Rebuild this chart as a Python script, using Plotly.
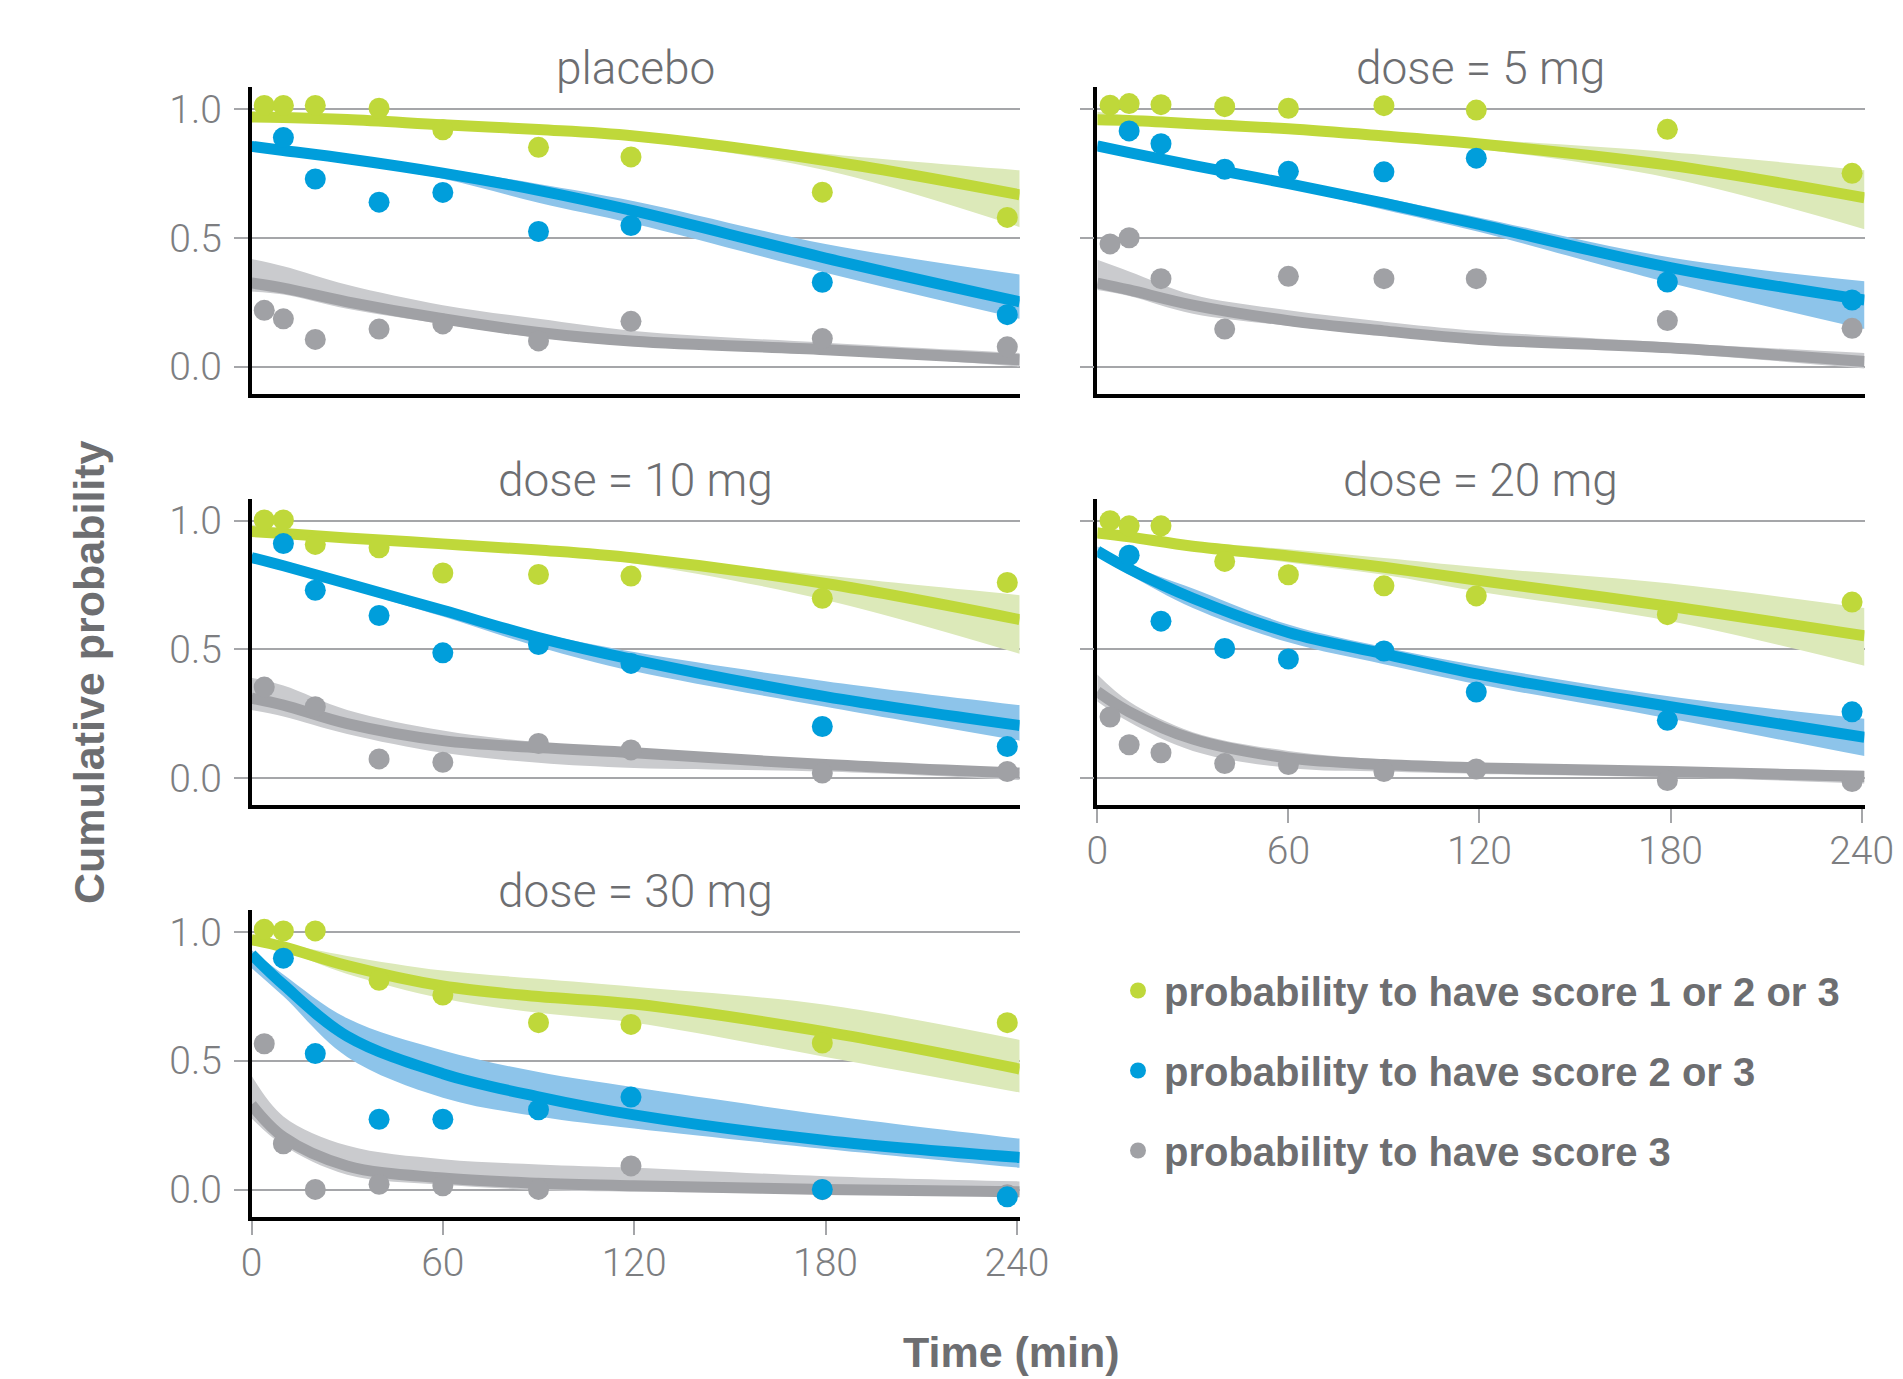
import plotly.graph_objects as go

# ---------------- data ----------------
PANELS = ["placebo", "dose = 5 mg", "dose = 10 mg", "dose = 20 mg", "dose = 30 mg"]
OBS_TIME = [4, 10, 20, 40, 60, 90, 119, 179, 237]          # observation times (min)
FIT_TIME = [0, 10, 30, 60, 90, 120, 180, 240.9]           # times where fitted curves were read
X_TICKS = [0, 60, 120, 180, 240]
Y_TICKS = [0.0, 0.5, 1.0]
Y_TICK_TEXT = ["0.0", "0.5", "1.0"]

SERIES_NAMES = [
    "probability to have score 1 or 2 or 3",
    "probability to have score 2 or 3",
    "probability to have score 3",
]

# observed proportions (None = point hidden / absent)
OBS_123 = {
    "placebo":      [1.015, 1.015, 1.015, 1.004, 0.92, 0.852, 0.815, 0.678, 0.58],
    "dose = 5 mg":  [1.016, 1.022, 1.018, 1.01, 1.004, 1.014, 0.997, 0.922, 0.751],
    "dose = 10 mg": [1.003, 1.003, 0.908, 0.895, 0.797, 0.791, 0.785, 0.699, 0.76],
    "dose = 20 mg": [1.0, 0.98, 0.98, 0.842, 0.79, 0.747, 0.708, 0.635, 0.684],
    "dose = 30 mg": [1.01, 1.004, 1.004, 0.812, 0.755, 0.648, 0.641, 0.569, 0.648],
}
OBS_23 = {
    "placebo":      [None, 0.89, 0.729, 0.639, 0.677, 0.525, 0.548, 0.328, 0.202],
    "dose = 5 mg":  [None, 0.916, 0.866, 0.767, 0.759, 0.757, 0.81, 0.329, 0.259],
    "dose = 10 mg": [None, 0.911, 0.73, 0.632, 0.487, 0.519, 0.446, 0.201, 0.123],
    "dose = 20 mg": [None, 0.866, 0.61, 0.504, 0.463, 0.494, 0.335, 0.225, 0.258],
    "dose = 30 mg": [None, 0.898, 0.528, 0.273, 0.273, 0.31, 0.359, 0.001, -0.028],
}
OBS_3 = {
    "placebo":      [0.219, 0.186, 0.106, 0.146, 0.166, 0.1, 0.176, 0.109, 0.077],
    "dose = 5 mg":  [0.477, 0.501, 0.342, 0.146, 0.351, 0.342, 0.342, 0.179, 0.149],
    "dose = 10 mg": [0.354, None, 0.278, 0.075, 0.062, 0.135, 0.11, 0.02, 0.026],
    "dose = 20 mg": [0.238, 0.13, 0.099, 0.057, 0.053, 0.026, 0.036, -0.009, -0.013],
    "dose = 30 mg": [0.566, 0.178, 0.001, 0.021, 0.015, 0.001, 0.092, 0.0, -0.02],
}

# fitted curves with lower / upper band
FIT_123 = {
    "placebo":      [0.97, 0.968, 0.96, 0.94, 0.921, 0.896, 0.801, 0.668],
    "dose = 5 mg":  [0.959, 0.956, 0.944, 0.924, 0.896, 0.865, 0.782, 0.656],
    "dose = 10 mg": [0.958, 0.95, 0.933, 0.91, 0.886, 0.855, 0.756, 0.616],
    "dose = 20 mg": [0.952, 0.937, 0.901, 0.863, 0.819, 0.768, 0.667, 0.553],
    "dose = 30 mg": [0.97, 0.942, 0.869, 0.79, 0.749, 0.72, 0.612, 0.468],
}
LO_123 = {
    "placebo":      [0.952, 0.95, 0.945, 0.928, 0.908, 0.88, 0.763, 0.542],
    "dose = 5 mg":  [0.94, 0.94, 0.93, 0.912, 0.88, 0.846, 0.732, 0.534],
    "dose = 10 mg": [0.94, 0.935, 0.92, 0.898, 0.872, 0.834, 0.692, 0.483],
    "dose = 20 mg": [0.933, 0.92, 0.885, 0.838, 0.79, 0.724, 0.61, 0.437],
    "dose = 30 mg": [0.951, 0.926, 0.837, 0.742, 0.686, 0.648, 0.515, 0.377],
}
HI_123 = {
    "placebo":      [0.985, 0.982, 0.975, 0.952, 0.934, 0.91, 0.827, 0.763],
    "dose = 5 mg":  [0.99, 0.975, 0.96, 0.936, 0.91, 0.884, 0.833, 0.763],
    "dose = 10 mg": [0.985, 0.97, 0.948, 0.922, 0.898, 0.868, 0.787, 0.711],
    "dose = 20 mg": [0.975, 0.955, 0.92, 0.889, 0.855, 0.819, 0.756, 0.661],
    "dose = 30 mg": [0.989, 0.957, 0.907, 0.85, 0.818, 0.787, 0.717, 0.581],
}
FIT_23 = {
    "placebo":      [0.856, 0.84, 0.808, 0.752, 0.685, 0.605, 0.422, 0.252],
    "dose = 5 mg":  [0.858, 0.832, 0.782, 0.711, 0.635, 0.553, 0.385, 0.259],
    "dose = 10 mg": [0.857, 0.825, 0.756, 0.652, 0.546, 0.46, 0.317, 0.205],
    "dose = 20 mg": [0.882, 0.813, 0.699, 0.566, 0.483, 0.403, 0.278, 0.159],
    "dose = 30 mg": [0.913, 0.795, 0.595, 0.45, 0.36, 0.29, 0.191, 0.125],
}
LO_23 = {
    "placebo":      [0.84, 0.826, 0.79, 0.73, 0.637, 0.555, 0.365, 0.186],
    "dose = 5 mg":  [0.84, 0.815, 0.768, 0.695, 0.61, 0.523, 0.325, 0.146],
    "dose = 10 mg": [0.842, 0.81, 0.738, 0.628, 0.51, 0.415, 0.278, 0.146],
    "dose = 20 mg": [0.86, 0.79, 0.661, 0.528, 0.443, 0.364, 0.231, 0.086],
    "dose = 30 mg": [0.86, 0.75, 0.515, 0.357, 0.284, 0.237, 0.158, 0.085],
}
HI_23 = {
    "placebo":      [0.872, 0.856, 0.825, 0.77, 0.71, 0.643, 0.477, 0.358],
    "dose = 5 mg":  [0.875, 0.85, 0.796, 0.725, 0.655, 0.579, 0.424, 0.332],
    "dose = 10 mg": [0.872, 0.84, 0.772, 0.67, 0.565, 0.49, 0.377, 0.284],
    "dose = 20 mg": [0.9, 0.83, 0.737, 0.597, 0.509, 0.437, 0.317, 0.231],
    "dose = 30 mg": [0.93, 0.835, 0.665, 0.54, 0.456, 0.397, 0.29, 0.198],
}
FIT_3 = {
    "placebo":      [0.325, 0.305, 0.252, 0.186, 0.133, 0.099, 0.066, 0.027],
    "dose = 5 mg":  [0.325, 0.298, 0.239, 0.179, 0.139, 0.106, 0.073, 0.02],
    "dose = 10 mg": [0.311, 0.284, 0.212, 0.146, 0.119, 0.099, 0.053, 0.02],
    "dose = 20 mg": [0.337, 0.258, 0.152, 0.079, 0.053, 0.04, 0.026, 0.007],
    "dose = 30 mg": [0.33, 0.204, 0.092, 0.045, 0.025, 0.015, 0.001, -0.008],
}
LO_3 = {
    "placebo":      [0.292, 0.28, 0.225, 0.166, 0.113, 0.08, 0.053, 0.0],
    "dose = 5 mg":  [0.298, 0.275, 0.206, 0.159, 0.12, 0.093, 0.053, -0.007],
    "dose = 10 mg": [0.265, 0.24, 0.172, 0.099, 0.06, 0.04, 0.026, -0.007],
    "dose = 20 mg": [0.298, 0.218, 0.106, 0.04, 0.026, 0.017, 0.004, -0.02],
    "dose = 30 mg": [0.277, 0.171, 0.058, 0.019, -0.001, -0.008, -0.015, -0.021],
}
HI_3 = {
    "placebo":      [0.418, 0.39, 0.318, 0.239, 0.186, 0.139, 0.093, 0.053],
    "dose = 5 mg":  [0.415, 0.37, 0.279, 0.219, 0.175, 0.139, 0.093, 0.053],
    "dose = 10 mg": [0.39, 0.36, 0.265, 0.185, 0.139, 0.112, 0.066, 0.026],
    "dose = 20 mg": [0.403, 0.298, 0.179, 0.106, 0.073, 0.06, 0.044, 0.03],
    "dose = 30 mg": [0.443, 0.284, 0.171, 0.118, 0.098, 0.085, 0.052, 0.032],
}

# ---------------- styling ----------------
W, H = 1903, 1379
MAIN = ["#bfd83a", "#009edb", "#a0a1a5"]
BAND = ["#dce9b9", "#8dc4ea", "#cacbce"]
GRID = "#a5a6a9"
TITLE_GREY = "#6d6e71"
TICK_GREY = "#7d7e81"
LIGHT_FONT = "Roboto, Liberation Sans, sans-serif"
BOLD_FONT = "Liberation Sans, Arial, sans-serif"

# panel placement in pixels: (left, right) and (top, bottom)
COLS = [(251.5, 1019.7), (1097.3, 1864.5)]
ROWS = [(87.4, 393.7), (498.8, 805.3), (910.0, 1216.7)]
PANEL_POS = [(0, 0), (0, 1), (1, 0), (1, 1), (2, 0)]
BOTTOM_PANELS = {3, 4}
X_RANGE = [0, 240.9]
Y_RANGE = [-0.105, 1.085]

fig = go.Figure()

series = [
    (OBS_123, FIT_123, LO_123, HI_123),
    (OBS_23, FIT_23, LO_23, HI_23),
    (OBS_3, FIT_3, LO_3, HI_3),
]

for i, panel in enumerate(PANELS):
    ax = "" if i == 0 else str(i + 1)
    xa, ya = "x" + ax, "y" + ax
    # confidence bands (grey first, green last)
    for s in (2, 1, 0):
        obs, fit, lo, hi = series[s]
        fig.add_trace(go.Scatter(x=FIT_TIME, y=lo[panel], mode="lines",
                                 line=dict(width=0, shape="spline", smoothing=1.0, color=BAND[s]),
                                 xaxis=xa, yaxis=ya, showlegend=False, hoverinfo="skip"))
        fig.add_trace(go.Scatter(x=FIT_TIME, y=hi[panel], mode="lines", fill="tonexty",
                                 fillcolor=BAND[s],
                                 line=dict(width=0, shape="spline", smoothing=1.0, color=BAND[s]),
                                 xaxis=xa, yaxis=ya, showlegend=False, hoverinfo="skip"))
    # fitted lines
    for s in (2, 1, 0):
        obs, fit, lo, hi = series[s]
        fig.add_trace(go.Scatter(x=FIT_TIME, y=fit[panel], mode="lines",
                                 line=dict(width=11, shape="spline", smoothing=1.0, color=MAIN[s]),
                                 xaxis=xa, yaxis=ya, showlegend=False, hoverinfo="skip"))
    # observed points
    for s in (2, 1, 0):
        obs = series[s][0]
        fig.add_trace(go.Scatter(x=OBS_TIME, y=obs[panel], mode="markers",
                                 marker=dict(size=21, color=MAIN[s], line=dict(width=0)),
                                 xaxis=xa, yaxis=ya, showlegend=False,
                                 name=SERIES_NAMES[s]))

# legend entries
for s in range(3):
    fig.add_trace(go.Scatter(x=[None], y=[None], mode="markers",
                             marker=dict(size=18, color=MAIN[s]),
                             name=SERIES_NAMES[s], legendgroup="g%d" % s,
                             showlegend=True))

layout = dict(
    width=W, height=H, autosize=False,
    margin=dict(l=0, r=0, t=0, b=0, autoexpand=False),
    paper_bgcolor="white", plot_bgcolor="white",
    showlegend=True,
    legend=dict(x=1112 / W, y=1 - 958 / H, xanchor="left", yanchor="top",
                font=dict(family=BOLD_FONT, size=40, color=TITLE_GREY, weight="bold"),
                itemwidth=42, tracegroupgap=25, bgcolor="rgba(0,0,0,0)"),
    annotations=[],
)

for i, panel in enumerate(PANELS):
    r, c = PANEL_POS[i]
    left, right = COLS[c]
    top, bottom = ROWS[r]
    ax = "" if i == 0 else str(i + 1)
    bottom_panel = i in BOTTOM_PANELS
    layout["xaxis" + ax] = dict(
        domain=[left / W, right / W], range=X_RANGE, anchor="y" + ax,
        showline=True, linecolor="black", linewidth=4, mirror=False,
        showgrid=False, zeroline=False, automargin=False,
        tickmode="array", tickvals=X_TICKS, ticktext=[str(v) for v in X_TICKS],
        ticks="outside" if bottom_panel else "", ticklen=14, tickwidth=2, tickcolor=GRID,
        showticklabels=bottom_panel, ticklabelstandoff=-6,
        tickfont=dict(family=LIGHT_FONT, size=39, color=TICK_GREY, weight=300),
    )
    layout["yaxis" + ax] = dict(
        domain=[1 - bottom / H, 1 - top / H], range=Y_RANGE, anchor="x" + ax,
        showline=True, linecolor="black", linewidth=3.5,
        showgrid=True, gridcolor=GRID, gridwidth=2, zeroline=False, automargin=False,
        tickmode="array", tickvals=Y_TICKS, ticktext=Y_TICK_TEXT,
        ticks="outside", ticklen=14, tickwidth=2, tickcolor=GRID,
        showticklabels=(c == 0), ticklabelstandoff=4,
        tickfont=dict(family=LIGHT_FONT, size=39, color=TICK_GREY, weight=300),
    )
    layout["annotations"].append(dict(
        text=panel, xref="paper", yref="paper",
        x=(left + right) / 2 / W, y=1 - top / H, xanchor="center", yanchor="bottom",
        yshift=-10, showarrow=False,
        font=dict(family=LIGHT_FONT, size=46, color=TITLE_GREY, weight=300)))

layout["annotations"].append(dict(
    text="Cumulative probability", xref="paper", yref="paper",
    x=89 / W, y=1 - 672 / H, xanchor="center", yanchor="middle", textangle=-90,
    showarrow=False, font=dict(family=BOLD_FONT, size=43, color=TITLE_GREY, weight="bold")))
layout["annotations"].append(dict(
    text="Time (min)", xref="paper", yref="paper",
    x=1011.5 / W, y=1 - 1352 / H, xanchor="center", yanchor="middle",
    showarrow=False, font=dict(family=BOLD_FONT, size=43, color=TITLE_GREY, weight="bold")))

fig.update_layout(**layout)
fig.write_html("out.html")
